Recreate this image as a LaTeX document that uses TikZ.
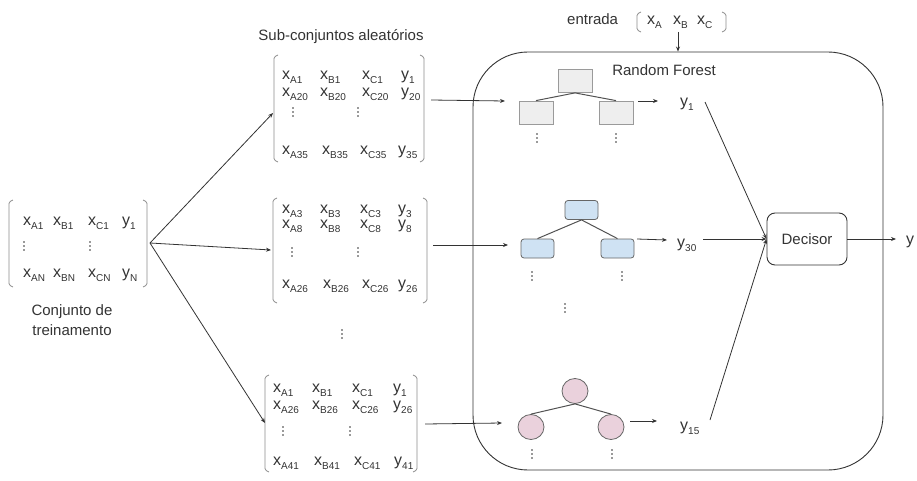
\documentclass[tikz,border=0pt]{standalone}
\usepackage{fontspec}
\setmainfont{Liberation Sans}
\usetikzlibrary{arrows.meta,shapes.geometric}
\definecolor{ink}{HTML}{333333}
\definecolor{brackc}{HTML}{8C8C8C}
\definecolor{grayfill}{HTML}{EEEEEE}
\definecolor{grayline}{HTML}{9A9A9A}
\definecolor{bluefill}{HTML}{CFE2F3}
\definecolor{pinkfill}{HTML}{EAD1DC}
\definecolor{nodeline}{HTML}{666666}
% variable with a lowered subscript
\newcommand\sx[2]{{\fontsize{16}{18}\selectfont #1}\raisebox{-4pt}{\fontsize{10}{12}\selectfont #2}}
% three stacked dots around a named point
\newcommand\dotcol[1]{\fill[ink] (#1) ++(0,-4) circle (0.8pt) ++(0,4) circle (0.8pt) ++(0,4) circle (0.8pt);}

\begin{document}
\begin{tikzpicture}[x=1pt,y=-1pt,
  font=\fontsize{15}{18}\selectfont, text=ink,
  ent/.style={anchor=base west, inner sep=0pt},
  lbl/.style={inner sep=0pt},
  bracket/.style={draw=brackc, line width=0.8pt, rounded corners=1.5pt},
  arr/.style={draw=ink, line width=0.8pt, -{Stealth[length=5pt,width=4pt]}},
  branch/.style={draw=ink!85, line width=1pt},
  grayleaf/.style={draw=grayline, fill=grayfill, line width=0.8pt, minimum width=34pt, minimum height=23pt, inner sep=0pt},
  blueleaf/.style={draw=nodeline, fill=bluefill, line width=0.8pt, rounded corners=3pt, minimum width=33pt, minimum height=19pt, inner sep=0pt},
  pinkleaf/.style={draw=nodeline, fill=pinkfill, line width=0.8pt, ellipse, minimum width=26pt, minimum height=25pt, inner sep=0pt},
]
\useasboundingbox (0,0) rectangle (917,481);

% ---------- training set ----------
\draw[bracket] (13,200) -- (9,202) -- (9,285) -- (13,287);
\draw[bracket] (143,200) -- (147,202) -- (147,285) -- (143,287);
\foreach \n/\x/\y/\t in {
  ta1/23/225/{\sx{x}{A1}}, tb1/53/225/{\sx{x}{B1}}, tc1/88/225/{\sx{x}{C1}}, ty1/122/225/{\sx{y}{1}},
  taN/23/277/{\sx{x}{AN}}, tbN/53/277/{\sx{x}{BN}}, tcN/88/277/{\sx{x}{CN}}, tyN/122/277/{\sx{y}{N}}}
  \node[ent] (\n) at (\x,\y) {\t};
\coordinate (td1) at (24,246); \dotcol{td1}
\coordinate (td3) at (90,246); \dotcol{td3}
\node[lbl, align=center, font=\fontsize{15}{20}\selectfont] (trainlbl) at (72,320) {Conjunto de\\treinamento};

% ---------- random subsets ----------
\node[lbl] (sublbl) at (341,37) {Sub-conjuntos aleatórios};

% subset 1
\draw[bracket] (278,55) -- (274,57) -- (274,160) -- (278,162);
\draw[bracket] (420,55) -- (424,57) -- (424,160) -- (420,162);
\foreach \n/\x/\y/\t in {
  pa1/282/80/{\sx{x}{A1}}, pb1/320/80/{\sx{x}{B1}}, pc1/362/80/{\sx{x}{C1}}, py1/401/80/{\sx{y}{1}},
  pa2/282/97/{\sx{x}{A20}}, pb2/320/97/{\sx{x}{B20}}, pc2/362/97/{\sx{x}{C20}}, py2/401/97/{\sx{y}{20}},
  pa3/282/155/{\sx{x}{A35}}, pb3/322/155/{\sx{x}{B35}}, pc3/360/155/{\sx{x}{C35}}, py3/398/155/{\sx{y}{35}}}
  \node[ent] (\n) at (\x,\y) {\t};
\coordinate (pd1) at (293,112); \dotcol{pd1}
\coordinate (pd3) at (358,112); \dotcol{pd3}

% subset 2
\draw[bracket] (277,198) -- (273,200) -- (273,301) -- (277,303);
\draw[bracket] (423,198) -- (427,200) -- (427,301) -- (423,303);
\foreach \n/\x/\y/\t in {
  qa1/282/213/{\sx{x}{A3}}, qb1/320/213/{\sx{x}{B3}}, qc1/360/213/{\sx{x}{C3}}, qy1/398/213/{\sx{y}{3}},
  qa2/282/228/{\sx{x}{A8}}, qb2/320/228/{\sx{x}{B8}}, qc2/360/228/{\sx{x}{C8}}, qy2/398/228/{\sx{y}{8}},
  qa3/282/288/{\sx{x}{A26}}, qb3/323/288/{\sx{x}{B26}}, qc3/362/288/{\sx{x}{C26}}, qy3/398/288/{\sx{y}{26}}}
  \node[ent] (\n) at (\x,\y) {\t};
\coordinate (qd1) at (292,252); \dotcol{qd1}
\coordinate (qd3) at (358,252); \dotcol{qd3}

\coordinate (gapdots) at (342,334); \dotcol{gapdots}

% subset 3
\draw[bracket] (269,375) -- (265,377) -- (265,470) -- (269,472);
\draw[bracket] (413,375) -- (417,377) -- (417,470) -- (413,472);
\foreach \n/\x/\y/\t in {
  ra1/273/392/{\sx{x}{A1}}, rb1/312/392/{\sx{x}{B1}}, rc1/352/392/{\sx{x}{C1}}, ry1/393/392/{\sx{y}{1}},
  ra2/273/409/{\sx{x}{A26}}, rb2/312/409/{\sx{x}{B26}}, rc2/352/409/{\sx{x}{C26}}, ry2/393/409/{\sx{y}{26}},
  ra3/273/465/{\sx{x}{A41}}, rb3/314/465/{\sx{x}{B41}}, rc3/354/465/{\sx{x}{C41}}, ry3/394/465/{\sx{y}{41}}}
  \node[ent] (\n) at (\x,\y) {\t};
\coordinate (rd1) at (283,431); \dotcol{rd1}
\coordinate (rd3) at (350,431); \dotcol{rd3}

% ---------- bagging arrows ----------
\coordinate (fan) at (150,243);
\coordinate (s1in) at (273,113);
\coordinate (s2in) at (271,250);
\coordinate (s3in) at (265,423);
\draw[arr] (fan) -- (s1in);
\draw[arr] (fan) -- (s2in);
\draw[arr] (fan) -- (s3in);

% ---------- random forest ----------
\node[draw=ink, line width=0.9pt, rounded corners=55pt, minimum width=410pt, minimum height=418pt, inner sep=0pt] (rf) at (678,261) {};
\node[lbl] (rflbl) at (664,70) {Random Forest};

% input vector
\node[ent] (entrada) at (567,25) {entrada};
\draw[bracket] (641,12) -- (637,14) -- (637,30) -- (641,32);
\draw[bracket] (722,12) -- (726,14) -- (726,30) -- (722,32);
\node[ent] (ea) at (647,25) {\sx{x}{A}};
\node[ent] (eb) at (673,25) {\sx{x}{B}};
\node[ent] (ec) at (697,25) {\sx{x}{C}};
\coordinate (ein) at (678,32);
\draw[arr] (ein) -- (ein |- rf.north);

% tree 1 (gray)
\node[grayleaf] (g0) at (575,81) {};
\node[grayleaf] (g1) at (536,112.5) {};
\node[grayleaf] (g2) at (616,112.5) {};
\draw[branch] (g0.south) -- (g1.north);
\draw[branch] (g0.south) -- (g2.north);
\coordinate (g1d) at (537,138); \dotcol{g1d}
\coordinate (g2d) at (616,138); \dotcol{g2d}

% tree 2 (blue)
\node[blueleaf] (b0) at (581.5,210) {};
\node[blueleaf] (b1) at (537.5,248.5) {};
\node[blueleaf] (b2) at (617.5,248.5) {};
\draw[branch] (b0.south) -- (b1.north);
\draw[branch] (b0.south) -- (b2.north);
\coordinate (b1d) at (532,276); \dotcol{b1d}
\coordinate (b2d) at (622,276); \dotcol{b2d}
\coordinate (b3d) at (565,308); \dotcol{b3d}

% tree 3 (pink)
\node[pinkleaf] (k0) at (575,391) {};
\node[pinkleaf] (k1) at (531,427) {};
\node[pinkleaf] (k2) at (611,427) {};
\draw[branch] (k0.south) -- (k1.north);
\draw[branch] (k0.south) -- (k2.north);
\coordinate (k1d) at (532,454); \dotcol{k1d}
\coordinate (k2d) at (612,454); \dotcol{k2d}

% subsets into trees
\coordinate (s1out) at (431,100);
\coordinate (s2out) at (433,245);
\coordinate (s3out) at (425,424);
\coordinate (g1in) at (505,101);
\coordinate (b1in) at (508,245);
\coordinate (k1in) at (502,423);
\draw[arr] (s1out) -- (g1in);
\draw[arr] (s2out) -- (b1in);
\draw[arr] (s3out) -- (k1in);

% tree outputs
\node[ent] (o1) at (680,107) {\sx{y}{1}};
\node[ent] (o2) at (677,247) {\sx{y}{30}};
\node[ent] (o3) at (680,430) {\sx{y}{15}};
\coordinate (g2out) at (638,101);
\coordinate (b2out) at (637,239);
\coordinate (k2out) at (630,421);
\coordinate (o1in) at (658,101);
\coordinate (o2in) at (667,240);
\coordinate (o3in) at (657,421);
\draw[arr] (g2out) -- (o1in);
\draw[arr] (b2out) -- (o2in);
\draw[arr] (k2out) -- (o3in);

% decision
\node[draw=ink, line width=0.9pt, rounded corners=8pt, minimum width=80pt, minimum height=52pt, inner sep=0pt] (dec) at (807,239) {Decisor};
\coordinate (o1s) at (705,102);
\coordinate (o2s) at (703,239);
\coordinate (o3s) at (710,420);
\draw[arr] (o1s) -- (dec.west);
\draw[arr] (o2s) -- (dec.west);
\draw[arr] (o3s) -- (dec.west);
\node[ent] (yout) at (906,244) {\fontsize{16}{18}\selectfont y};
\draw[arr] (dec.east) -- ([xshift=-10pt]yout.west |- dec.east);
\end{tikzpicture}
\end{document}
